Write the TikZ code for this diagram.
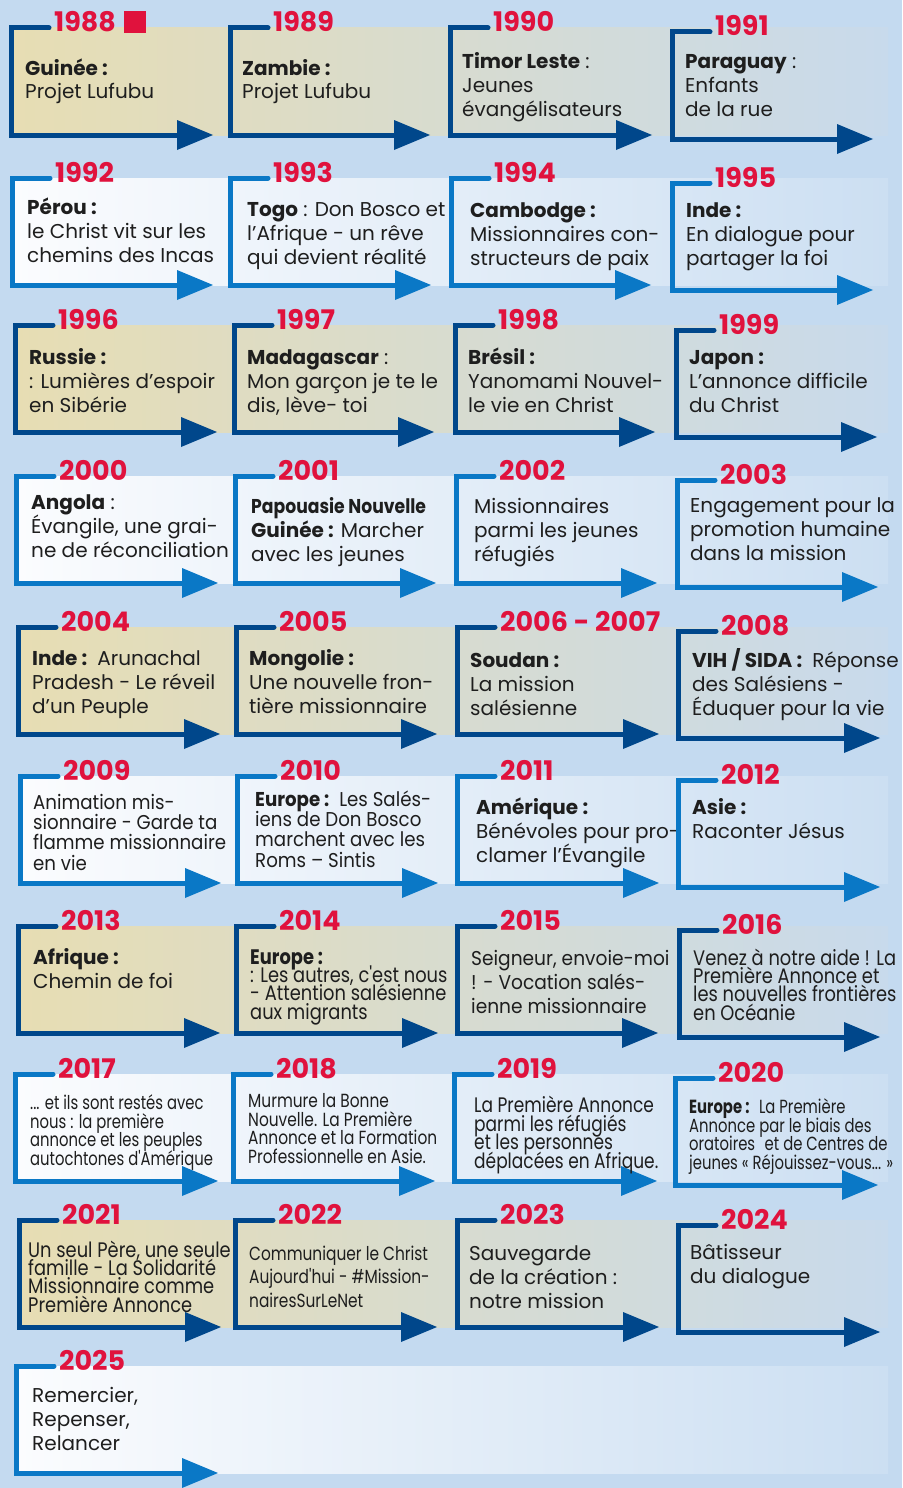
\documentclass[tikz,border=0pt]{standalone}
\usepackage{fontspec}
\setmainfont{Poppins}
\newfontfamily\fsA[FakeStretch=0.78]{Poppins}
\newfontfamily\fsB[FakeStretch=0.81]{Poppins}
\newfontfamily\fsC[FakeStretch=0.85]{Poppins}
\newfontfamily\fsD[FakeStretch=0.91]{Poppins}
\newfontfamily\fsE[FakeStretch=0.86]{Poppins}
\newfontfamily\fsF[FakeStretch=0.93]{Poppins}
\newcommand{\tightls}{\lineskiplimit=-100pt\lineskip=0pt}
\definecolor{bgc}{HTML}{C4DAF0}
\definecolor{navyc}{HTML}{00478B}
\definecolor{bluec}{HTML}{0A78C6}
\definecolor{yredc}{HTML}{E0123D}
\definecolor{tanc}{HTML}{E7DDB3}
\definecolor{tanr}{HTML}{C8DAEC}
\definecolor{whtc}{HTML}{FBFCFE}
\definecolor{whtr}{HTML}{CCDFF2}
\definecolor{txtc}{HTML}{1E1E1E}
\tikzset{
  bracketline/.style={line width=5pt, line cap=round, line join=miter},
  yr/.style={text=yredc, font=\fontsize{27}{27}\selectfont\bfseries, anchor=base west, inner sep=0pt},
  txt/.style={text=txtc, anchor=base west, inner sep=0pt, align=left, font=\fontsize{20}{24}\selectfont\tightls},
  cA/.style={font=\fsA\fontsize{19}{18.5}\selectfont\tightls},
  cB/.style={font=\fsB\fontsize{19}{18.5}\selectfont\tightls},
  cBb/.style={font=\fsB\fontsize{21}{18.5}\selectfont\tightls},
  cBc/.style={font=\fsB\fontsize{19}{23.5}\selectfont\tightls},
  cC/.style={font=\fsC\fontsize{21}{18.3}\selectfont\tightls},
  cD/.style={font=\fsD\fontsize{20}{20.3}\selectfont\tightls},
  cF/.style={font=\fsF\fontsize{20}{24}\selectfont\tightls},
  tanband/.style={left color=tanc, right color=tanr},
  whtband/.style={left color=whtc, right color=whtr},
  redsq/.style={fill=yredc, inner sep=0pt, minimum size=22pt, draw=none}
}
% #1 name, #2 L, #3 T, #4 tip x, #5 colour, #6 year, #7 position of last text baseline, #8 text style, #9 text
\newcommand{\tlcell}[9]{%
  \coordinate (c#1) at (#2,#3);
  \draw[bracketline, draw=#5] (#2+38,#3) -- (c#1) -- (#2,#3+107) -- (#4-25,#3+107);
  \fill[#5] (#4,#3+107) -- (#4-36,#3+92) -- (#4-36,#3+122) -- cycle;
  \node[yr] (yr#1) at (#2+43,#3+4) {#6};
  \node[txt,#8] (tx#1) at #7 {#9};
}
\begin{document}
\begin{tikzpicture}[x=1pt,y=-1pt]
\useasboundingbox (0,0) rectangle (902,1488);
\fill[bgc] (0,0) rectangle (902,1488);
% bands
\shade[tanband] (11,28) rectangle (888,135);
\shade[whtband] (12,178) rectangle (888,285);
\shade[tanband] (15,325) rectangle (888,432);
\shade[whtband] (16,476) rectangle (888,583);
\shade[tanband] (18,627) rectangle (888,734);
\shade[whtband] (20,776) rectangle (888,883);
\shade[tanband] (18,926) rectangle (888,1033);
\shade[whtband] (15,1074) rectangle (888,1181);
\shade[tanband] (19,1220) rectangle (888,1327);
\shade[whtband] (16,1366) rectangle (888,1473);
% row 1
\tlcell{1988}{11}{28}{213}{navyc}{1988}{(25,99)}{}{\textbf{Guinée :}\\Projet Lufubu}
\node[redsq] (sq1988) at (135,22) {};
\tlcell{1989}{230}{28}{430}{navyc}{1989}{(242,99)}{}{\textbf{Zambie :}\\Projet Lufubu}
\tlcell{1990}{450}{28}{652}{navyc}{1990}{(462,116)}{}{\textbf{Timor Leste} :\\Jeunes\\évangélisateurs}
\tlcell{1991}{672}{32}{873}{navyc}{1991}{(685,116)}{}{\textbf{Paraguay} :\\Enfants\\de la rue}
% row 2
\tlcell{1992}{12}{178}{213}{bluec}{1992}{(27,262)}{}{\textbf{Pérou :}\\le Christ vit sur les\\chemins des Incas}
\tlcell{1993}{230}{178}{431}{bluec}{1993}{(247,264)}{}{\textbf{Togo} : Don Bosco et\\l'Afrique - un rêve\\qui devient réalité}
\tlcell{1994}{451}{178}{651}{bluec}{1994}{(470,265)}{}{\textbf{Cambodge :}\\Missionnaires con-\\structeurs de paix}
\tlcell{1995}{672}{183}{873}{bluec}{1995}{(686,265)}{}{\textbf{Inde :}\\En dialogue pour\\partager la foi}
% row 3
\tlcell{1996}{15}{325}{217}{navyc}{1996}{(29,412)}{}{\textbf{Russie :}\\: Lumières d'espoir\\en Sibérie}
\tlcell{1997}{234}{325}{434}{navyc}{1997}{(247,412)}{}{\textbf{Madagascar} :\\Mon garçon je te le\\dis, lève- toi}
\tlcell{1998}{455}{325}{655}{navyc}{1998}{(468,412)}{}{\textbf{Brésil :}\\Yanomami Nouvel-\\le vie en Christ}
\tlcell{1999}{676}{330}{877}{navyc}{1999}{(689,412)}{}{\textbf{Japon :}\\L'annonce difficile\\du Christ}
% row 4
\tlcell{2000}{16}{476}{218}{bluec}{2000}{(31,557)}{}{\textbf{Angola} :\\Évangile, une grai-\\ne de réconciliation}
\tlcell{2001}{235}{476}{436}{bluec}{2001}{(251,561)}{}{{\fsE\bfseries Papouasie Nouvelle}\\\textbf{Guinée :} Marcher\\avec les jeunes}
\tlcell{2002}{456}{476}{657}{bluec}{2002}{(474,561)}{}{Missionnaires\\parmi les jeunes\\réfugiés}
\tlcell{2003}{677}{480}{878}{bluec}{2003}{(690,560)}{}{Engagement pour la\\promotion humaine\\dans la mission}
% row 5
\tlcell{2004}{18}{627}{220}{navyc}{2004}{(32,713)}{}{\textbf{Inde :}\enspace Arunachal\\Pradesh - Le réveil\\d'un Peuple}
\tlcell{2005}{236}{627}{437}{navyc}{2005}{(249,713)}{}{\textbf{Mongolie :}\\Une nouvelle fron-\\tière missionnaire}
\tlcell{2006}{457}{627}{659}{navyc}{2006 - 2007}{(470,715)}{}{\textbf{Soudan :}\\La mission\\salésienne}
\tlcell{2008}{678}{631}{880}{navyc}{2008}{(692,715)}{}{\textbf{VIH / SIDA :}\enspace Réponse\\des Salésiens -\\Éduquer pour la vie}
% row 6
\tlcell{2009}{20}{776}{221}{bluec}{2009}{(33,870)}{cD}{Animation mis-\\sionnaire - Garde ta\\flamme missionnaire\\en vie}
\tlcell{2010}{237}{776}{438}{bluec}{2010}{(255,867)}{cD}{\textbf{Europe :}\enspace Les Salés-\\iens de Don Bosco\\marchent avec les\\Roms – Sintis}
\tlcell{2011}{457}{776}{659}{bluec}{2011}{(476,862)}{}{\textbf{Amérique :}\\Bénévoles pour pro-\\clamer l'Évangile}
\tlcell{2012}{678}{780}{880}{bluec}{2012}{(692,838)}{}{\textbf{Asie :}\\Raconter Jésus}
% row 7
\tlcell{2013}{18}{926}{220}{navyc}{2013}{(33,988)}{}{\textbf{Afrique :}\\Chemin de foi}
\tlcell{2014}{236}{926}{438}{navyc}{2014}{(250,1019)}{cC}{\textbf{Europe :}\\: Les autres, c'est nous\\- Attention salésienne\\aux migrants}
\tlcell{2015}{457}{926}{658}{navyc}{2015}{(471,1013)}{cF}{Seigneur, envoie-moi\\! - Vocation salés-\\ienne missionnaire}
\tlcell{2016}{679}{930}{880}{navyc}{2016}{(693,1020)}{cC}{Venez à notre aide ! La\\Première Annonce et\\les nouvelles frontières\\en Océanie}
% row 8
\tlcell{2017}{15}{1074}{218}{bluec}{2017}{(30,1165)}{cA}{... et ils sont restés avec\\nous : la première\\annonce et les peuples\\autochtones d'Amérique}
\tlcell{2018}{233}{1074}{435}{bluec}{2018}{(248,1163)}{cB}{Murmure la Bonne\\Nouvelle. La Première\\Annonce et la Formation\\Professionnelle en Asie.}
\tlcell{2019}{454}{1074}{657}{bluec}{2019}{(474,1168)}{cBb}{La Première Annonce\\parmi les réfugiés\\et les personnes\\déplacées en Afrique.}
\tlcell{2020}{675}{1078}{878}{bluec}{2020}{(689,1169)}{cA}{\textbf{Europe :}\enspace La Première\\Annonce par le biais des\\oratoires\enspace et de Centres de\\jeunes « Réjouissez-vous... »}
% row 9
\tlcell{2021}{19}{1220}{221}{navyc}{2021}{(28,1312)}{cC}{Un seul Père, une seule\\famille - La Solidarité\\Missionnaire comme\\Première Annonce}
\tlcell{2022}{235}{1220}{437}{navyc}{2022}{(249,1307)}{cBc}{Communiquer le Christ\\Aujourd'hui - \#Mission-\\nairesSurLeNet}
\tlcell{2023}{457}{1220}{659}{navyc}{2023}{(469,1308)}{}{Sauvegarde\\de la création :\\notre mission}
\tlcell{2024}{678}{1225}{880}{navyc}{2024}{(690,1283)}{}{Bâtisseur\\du dialogue}
% row 10
\tlcell{2025}{16}{1366}{218}{bluec}{2025}{(32,1450)}{}{Remercier,\\Repenser,\\Relancer}
\end{tikzpicture}
\end{document}
